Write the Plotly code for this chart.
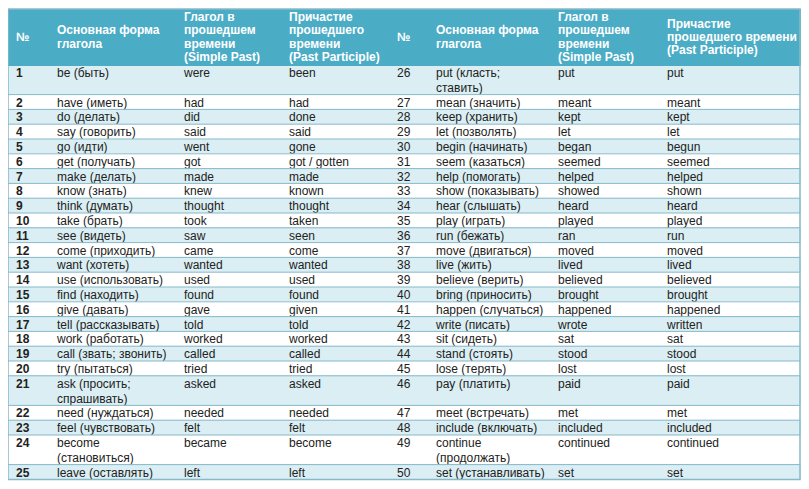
import plotly.graph_objects as go

# ---------------- data ----------------
header_left = ["№", "Основная форма<br>глагола", "Глагол в<br>прошедшем<br>времени<br>(Simple Past)",
               "Причастие<br>прошедшего<br>времени<br>(Past Participle)"]
header_right = ["№", "Основная форма<br>глагола", "Глагол в<br>прошедшем<br>времени<br>(Simple Past)",
                "Причастие<br>прошедшего времени<br>(Past Participle)"]

nums_left = [str(i) for i in range(1, 26)]
base_left = ["be (быть)", "have (иметь)", "do (делать)", "say (говорить)", "go (идти)", "get (получать)",
             "make (делать)", "know (знать)", "think (думать)", "take (брать)", "see (видеть)",
             "come (приходить)", "want (хотеть)", "use (использовать)", "find (находить)", "give (давать)",
             "tell (рассказывать)", "work (работать)", "call (звать; звонить)", "try (пытаться)",
             "ask (просить;<br>спрашивать)", "need (нуждаться)", "feel (чувствовать)",
             "become<br>(становиться)", "leave (оставлять)"]
past_left = ["were", "had", "did", "said", "went", "got", "made", "knew", "thought", "took", "saw", "came",
             "wanted", "used", "found", "gave", "told", "worked", "called", "tried", "asked", "needed",
             "felt", "became", "left"]
part_left = ["been", "had", "done", "said", "gone", "got / gotten", "made", "known", "thought", "taken",
             "seen", "come", "wanted", "used", "found", "given", "told", "worked", "called", "tried",
             "asked", "needed", "felt", "become", "left"]

nums_right = [str(i) for i in range(26, 51)]
base_right = ["put (класть;<br>ставить)", "mean (значить)", "keep (хранить)", "let (позволять)",
              "begin (начинать)", "seem (казаться)", "help (помогать)", "show (показывать)",
              "hear (слышать)", "play (играть)", "run (бежать)", "move (двигаться)", "live (жить)",
              "believe (верить)", "bring (приносить)", "happen (случаться)", "write (писать)",
              "sit (сидеть)", "stand (стоять)", "lose (терять)", "pay (платить)", "meet (встречать)",
              "include (включать)", "continue<br>(продолжать)", "set (устанавливать)"]
past_right = ["put", "meant", "kept", "let", "began", "seemed", "helped", "showed", "heard", "played",
              "ran", "moved", "lived", "believed", "brought", "happened", "wrote", "sat", "stood", "lost",
              "paid", "met", "included", "continued", "set"]
part_right = ["put", "meant", "kept", "let", "begun", "seemed", "helped", "shown", "heard", "played",
              "run", "moved", "lived", "believed", "brought", "happened", "written", "sat", "stood",
              "lost", "paid", "met", "included", "continued", "set"]

# ---------------- styling ----------------
HEAD_BG = "#4BACC6"
BAND = "#DAEEF3"
WHITE = "#FFFFFF"
RULE = "#86B9CA"
TXT = "#222222"
CLEAR = "rgba(0,0,0,0)"
FONT = "Arial, 'Liberation Sans', sans-serif"

OFF = 8  # page body margin of the html page
W, H = 809 - OFF, 489 - OFF
col_edges = [x - OFF for x in [8, 49, 176, 281, 389, 428, 550, 659, 800]]
TOP, BOTTOM = 9 - OFF, 481 - OFF
HEAD_H = 56
ROW_H = 14.8
TEXT_SHIFT = 5  # raise body text inside its row

# ---------------- build table (split multi-line rows into sub-rows) ----------------
columns = [nums_left, base_left, past_left, part_left, nums_right, base_right, past_right, part_right]
n = len(nums_left)
cols_out = [[] for _ in columns]
fills = []
row_group_starts = []
sub = 0
for r in range(n):
    parts = [c[r].split("<br>") for c in columns]
    k = max(len(p) for p in parts)
    row_group_starts.append(sub)
    color = BAND if r % 2 == 0 else WHITE
    for j in range(k):
        for ci, p in enumerate(parts):
            txt = p[j] if j < len(p) else ""
            cols_out[ci].append(txt.replace(" ", "\u00a0"))
        fills.append(color)
        sub += 1
n_sub = sub
row_group_starts.append(n_sub)

fill2d = [fills for _ in columns]
widths = [col_edges[i + 1] - col_edges[i] for i in range(8)]
dom_x = [col_edges[0] / W, col_edges[-1] / W]

fig = go.Figure()
# background table: header band + row shading
fig.add_trace(go.Table(
    domain=dict(x=dom_x, y=[1 - BOTTOM / H, 1 - TOP / H]),
    columnwidth=widths,
    header=dict(values=[""] * 8, height=HEAD_H, fill_color=HEAD_BG,
                line=dict(color=HEAD_BG, width=1)),
    cells=dict(values=[[""] * n_sub for _ in columns], height=ROW_H,
               fill_color=fill2d, line=dict(color=fill2d, width=1)),
))
# text table (transparent), slightly raised so text sits like the reference
fig.add_trace(go.Table(
    domain=dict(x=dom_x, y=[1 - BOTTOM / H, 1 - TOP / H]),
    columnwidth=widths,
    header=dict(values=[""] * 8, height=HEAD_H - TEXT_SHIFT, fill_color=CLEAR,
                line=dict(color=CLEAR, width=0)),
    cells=dict(values=cols_out, height=ROW_H, align="left",
               fill_color=CLEAR, line=dict(color=CLEAR, width=0),
               font=dict(family=FONT, size=12, color=TXT,
                         weight=["bold"] + ["normal"] * 7)),
))

# header labels (vertically centred, one annotation per line)
head_all = header_left + header_right
LINE = 13.5
center = TOP + HEAD_H / 2
for ci, lab in enumerate(head_all):
    lines = lab.split("<br>")
    m = len(lines)
    for i, ln in enumerate(lines):
        yc = center + (i - (m - 1) / 2) * LINE
        fig.add_annotation(x=(col_edges[ci] + 6) / W, y=1 - yc / H, xref="paper", yref="paper",
                           xanchor="left", yanchor="middle", showarrow=False, text="<b>" + ln + "</b>",
                           font=dict(family=FONT, size=12, color="white"))

# horizontal rules between logical rows + outer border
shapes = []
for s in row_group_starts[1:-1]:
    y = TOP + HEAD_H + s * ROW_H
    shapes.append(dict(type="line", xref="paper", yref="paper", x0=col_edges[0] / W, x1=col_edges[-1] / W,
                       y0=1 - y / H, y1=1 - y / H, line=dict(color=RULE, width=1)))
y_end = TOP + HEAD_H + n_sub * ROW_H
shapes.append(dict(type="rect", xref="paper", yref="paper", x0=col_edges[0] / W, x1=col_edges[-1] / W,
                   y0=1 - y_end / H, y1=1 - TOP / H, line=dict(color=RULE, width=1.5)))
fig.update_layout(shapes=shapes, width=W, height=H, margin=dict(l=0, r=0, t=0, b=0),
                  paper_bgcolor="white")

fig.write_html("out.html")
